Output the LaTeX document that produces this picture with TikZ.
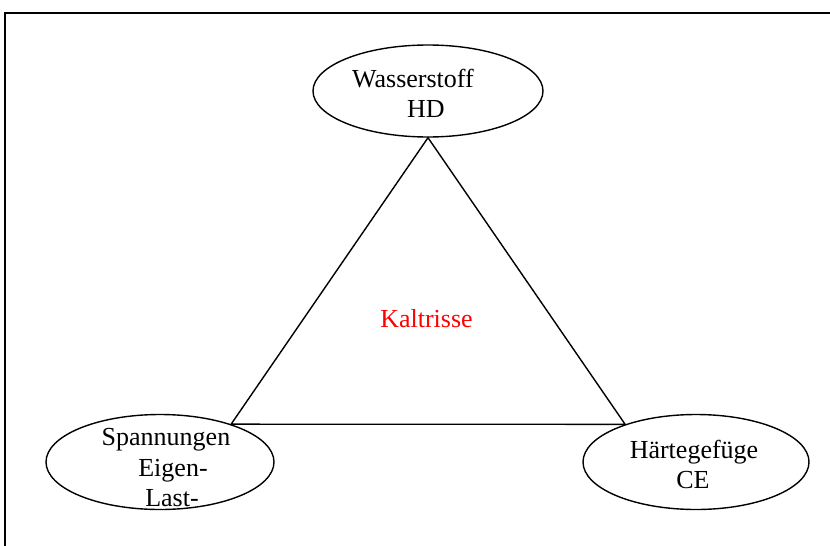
\documentclass[tikz,border=0pt]{standalone}
\usepackage{fontspec}
\setmainfont{Liberation Serif}
\usetikzlibrary{shapes.geometric}
\begin{document}
\begin{tikzpicture}[x=1pt,y=-1pt,
  oval/.style={ellipse, draw, line width=1.4pt, inner sep=0pt},
  lbl/.style={anchor=base, inner sep=0pt, font=\fontsize{26}{30}\selectfont},
  edge/.style={line width=1.4pt}]
\useasboundingbox (0,0) rectangle (830,546);
\draw[line width=2.5pt] (5,546) |- (830,13);
% ellipses
\node[oval, minimum width=230pt, minimum height=92pt] (W) at (428,91) {};
\node[oval, minimum width=228pt, minimum height=95pt] (S) at (160,462) {};
\node[oval, minimum width=226pt, minimum height=95pt] (H) at (696,462) {};
% triangle
\draw[edge] (S.28.5) -- (W.south) -- (H.152.5) -- (S.28.5);
% labels
\node[lbl] (w1) at (413,87) {Wasserstoff};
\node[lbl] (w2) at (426,117) {HD};
\begin{scope}
  \clip (160,462) ellipse [x radius=113pt, y radius=46.8pt];
  \node[lbl] (s1) at (166,445) {Spannungen};
  \node[lbl] (s2) at (173,476) {Eigen-};
  \node[lbl] (s3) at (172,506) {Last-};
\end{scope}
\node[lbl] (h1) at (694,458) {Härtegefüge};
\node[lbl] (h2) at (693,488) {CE};
\node[lbl, text=red] (k) at (426.5,327) {Kaltrisse};
\end{tikzpicture}
\end{document}
